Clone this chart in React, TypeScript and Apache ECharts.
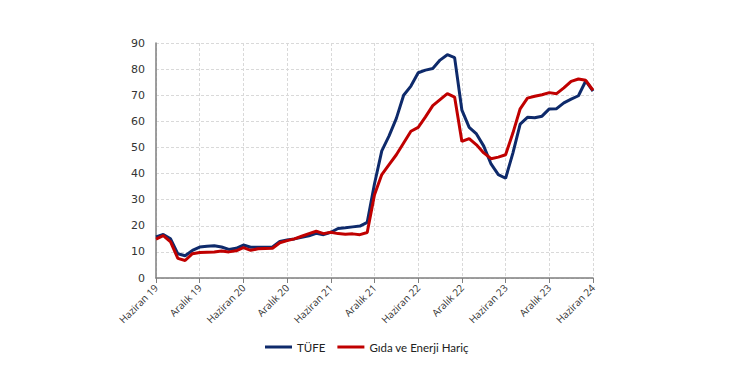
import React, { useEffect, useRef } from "react";
import * as echarts from "echarts";

const monthNames = ["Ocak", "Şubat", "Mart", "Nisan", "Mayıs", "Haziran", "Temmuz", "Ağustos", "Eylül", "Ekim", "Kasım", "Aralık"];
const startYear = 2019;
const startMonth = 5; // Haziran
const monthCount = 61;
const categories: string[] = [];
for (let i = 0; i < monthCount; i++) {
  const m = (startMonth + i) % 12;
  const y = startYear + Math.floor((startMonth + i) / 12);
  categories.push(`${monthNames[m]} ${String(y).slice(2)}`);
}

const tufe = [
  15.72, 16.65, 15.01, 9.26, 8.55, 10.56, 11.84,
  12.15, 12.37, 11.86, 10.94, 11.39, 12.62, 11.76, 11.77, 11.75, 11.89, 14.03, 14.6,
  14.97, 15.61, 16.19, 17.14, 16.59, 17.53, 18.95, 19.25, 19.58, 19.89, 21.31, 36.08,
  48.69, 54.44, 61.14, 69.97, 73.5, 78.62, 79.6, 80.21, 83.45, 85.51, 84.39, 64.27,
  57.68, 55.18, 50.51, 43.68, 39.59, 38.21, 47.83, 58.94, 61.53, 61.36, 61.98, 64.77,
  64.86, 67.07, 68.5, 69.8, 75.45, 71.6,
];

const gidaEnerjiHaric = [
  14.9, 16.2, 13.8, 7.5, 6.7, 9.3, 9.8,
  9.9, 10.0, 10.3, 10.0, 10.4, 11.6, 10.6, 11.2, 11.3, 11.4, 13.5, 14.3,
  15.0, 16.0, 17.0, 17.9, 17.0, 17.5, 17.0, 16.8, 16.9, 16.6, 17.4, 31.9,
  39.6, 43.4, 47.2, 51.7, 56.2, 57.7, 61.7, 66.0, 68.3, 70.6, 69.3, 52.3,
  53.4, 51.0, 47.9, 45.7, 46.3, 47.2, 55.5, 64.8, 68.9, 69.6, 70.2, 71.0,
  70.6, 72.8, 75.3, 76.2, 75.7, 71.9,
];

const seriesNames = ["TÜFE", "Gıda ve Enerji Hariç"];
const seriesColors = ["#0e2a6b", "#c00000"];

export default function App() {
  const ref = useRef<HTMLDivElement>(null);
  useEffect(() => {
    if (!ref.current) return;
    const chart = echarts.init(ref.current, undefined, { renderer: "svg" });
    chart.setOption({
      animation: false,
      backgroundColor: "#ffffff",
      grid: { left: 156, right: 157, top: 43, bottom: 97 },
      legend: {
        bottom: 17,
        left: 260,
        icon: "rect",
        itemWidth: 27,
        itemHeight: 3,
        itemGap: 12,
        textStyle: { fontFamily: "Lato", fontSize: 11.5, color: "#222" },
        data: seriesNames,
      },
      xAxis: {
        type: "category",
        data: categories,
        boundaryGap: false,
        axisLine: { lineStyle: { color: "#7f7f7f", width: 1.5 } },
        axisTick: { interval: 5, length: 5, lineStyle: { color: "#7f7f7f" } },
        axisLabel: {
          interval: 5,
          rotate: 45,
          fontFamily: "Open Sans",
          fontSize: 10,
          color: "#333",
          margin: 8,
        },
        splitLine: {
          show: true,
          interval: 5,
          lineStyle: { color: "#d9d9d9", type: [3, 2] },
        },
      },
      yAxis: {
        type: "value",
        min: 0,
        max: 90,
        interval: 10,
        axisLine: { show: true, lineStyle: { color: "#7f7f7f", width: 1.5 } },
        axisTick: { show: false },
        axisLabel: { fontFamily: "DejaVu Sans", fontSize: 11, color: "#333", margin: 11 },
        splitLine: { lineStyle: { color: "#d9d9d9", type: [3, 2] } },
      },
      series: [
        {
          name: seriesNames[0],
          type: "line",
          data: tufe,
          symbol: "none",
          lineStyle: { color: seriesColors[0], width: 3 },
          itemStyle: { color: seriesColors[0] },
        },
        {
          name: seriesNames[1],
          type: "line",
          data: gidaEnerjiHaric,
          symbol: "none",
          lineStyle: { color: seriesColors[1], width: 3 },
          itemStyle: { color: seriesColors[1] },
        },
      ],
    });
    return () => chart.dispose();
  }, []);
  return <div ref={ref} style={{ width: 750, height: 375, position: "absolute", left: 0, top: 0 }} />;
}
